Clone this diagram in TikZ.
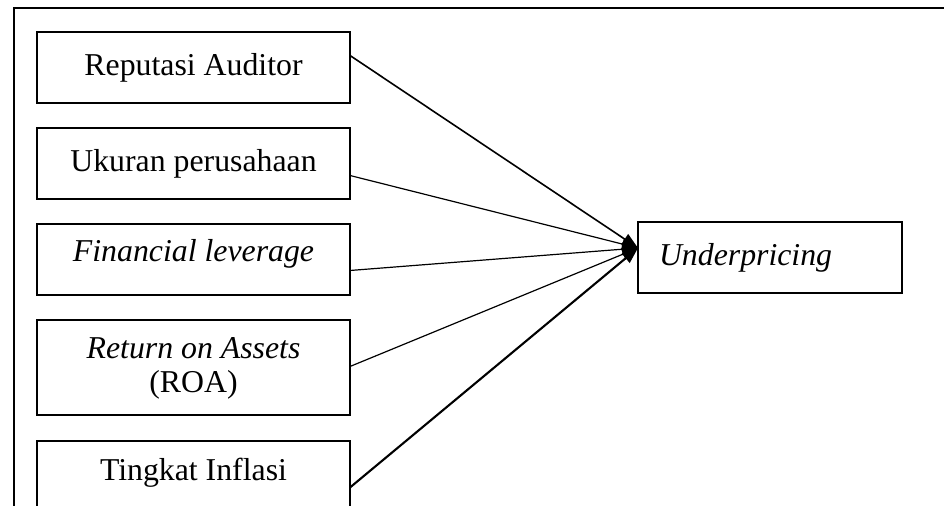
\documentclass[tikz,border=0pt]{standalone}
\usepackage{fontspec}
\setmainfont{Liberation Serif}
\usetikzlibrary{positioning, arrows.meta}

\begin{document}
\begin{tikzpicture}[x=0.5pt, y=-0.5pt,
  varbox/.style={
    draw, line width=1pt, minimum width=156.5pt, minimum height=35.5pt,
    inner sep=0pt, outer sep=0pt, align=center, font=\fontsize{15.9}{17}\selectfont
  },
  link/.style={-{Triangle[length=8pt, width=6pt]}, line width=0.6pt},
]
\useasboundingbox (0,0) rectangle (944,506);
\draw[line width=1pt] (14,520) -- (14,8) -- (950,8);

\node[varbox, anchor=north west] (auditor) at (37,32) {Reputasi Auditor};
\node[varbox, below=12.75pt of auditor] (ukuran) {Ukuran perusahaan};
\node[varbox, below=12.5pt of ukuran, text height=11pt, text depth=9pt]
  (leverage) {\textit{Financial leverage}};
\node[varbox, minimum height=47.5pt, below=12.5pt of leverage]
  (roa) {\textit{Return on Assets}\\(ROA)};
\node[varbox, below=13pt of roa, text height=11pt, text depth=7.5pt]
  (inflasi) {Tingkat Inflasi};

\node[varbox, anchor=north west, minimum width=132pt, text width=111pt,
      inner xsep=10.5pt, align=left]
  (under) at (638,222) {\textit{Underpricing}};

\coordinate (hub) at ([yshift=4.75pt]under.west);

\draw[link, line width=0.8pt] ([yshift=6pt]auditor.east) -- (hub);
\draw[link] ([yshift=-5.75pt]ukuran.east) -- (hub);
\draw[link] ([yshift=-5.25pt]leverage.east) -- (hub);
\draw[link] ([yshift=0.75pt]roa.east) -- (hub);
\draw[link, line width=1.05pt] ([yshift=-5.25pt]inflasi.east) -- (hub);
\end{tikzpicture}
\end{document}
